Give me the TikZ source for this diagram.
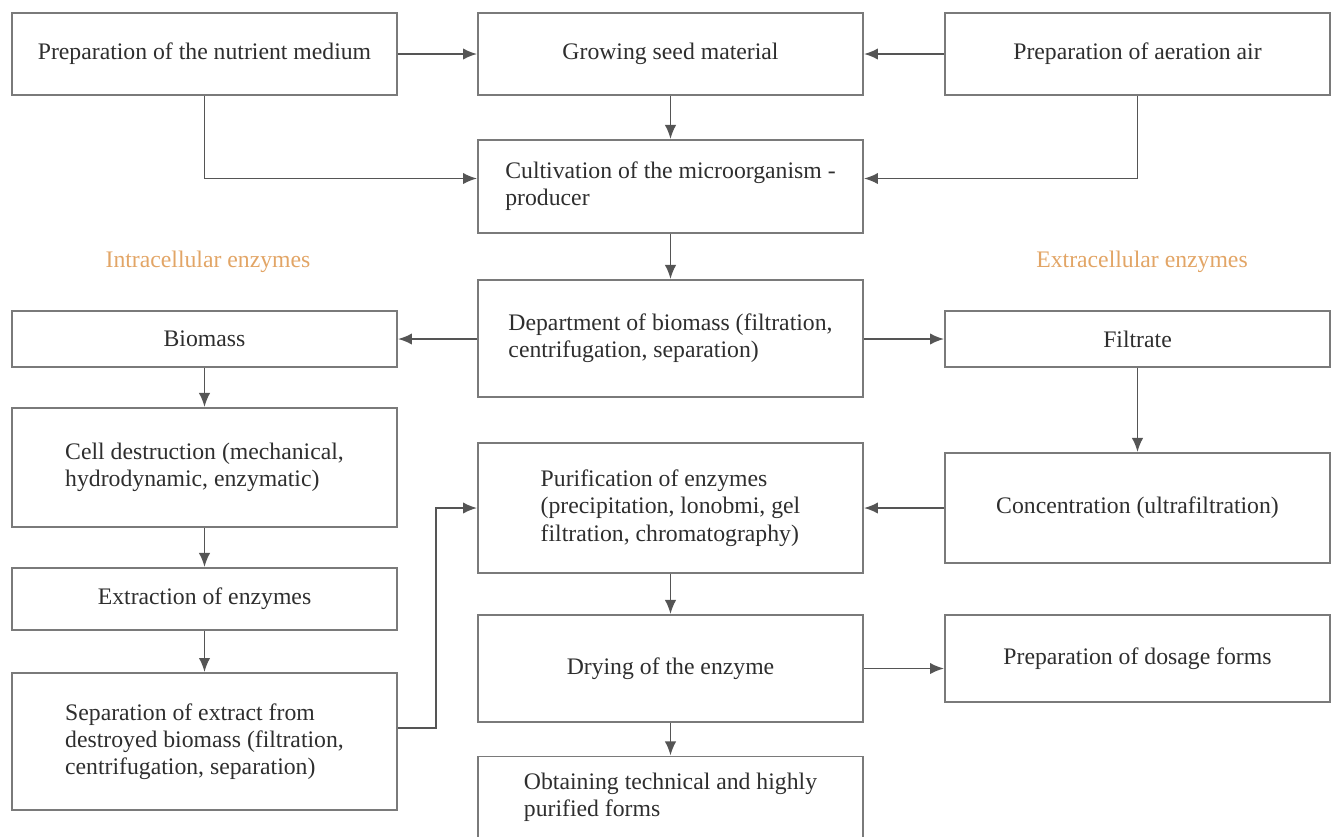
\documentclass[tikz,border=0pt]{standalone}
\usepackage{xcolor}
\usepackage{fontspec}
\setmainfont{Liberation Serif}
\usepackage{tikz}
\usetikzlibrary{arrows.meta}
\definecolor{ink}{HTML}{2E2E2E}
\definecolor{frame}{HTML}{7A7A7A}
\definecolor{tag}{HTML}{E2A566}

\begin{document}
\begin{tikzpicture}[x=0.02cm, y=-0.02cm,
  stage/.style={draw=frame, line width=1.1pt, text=ink, minimum width=7.7cm, inner sep=4pt,
    font=\fontsize{13.5}{15.5}\selectfont},
  flow/.style={draw=frame!70!black, line width=1.1pt, -{Latex[length=8pt,width=6.5pt]}},
  side/.style={text=tag, font=\fontsize{13.5}{15.5}\selectfont}]
  \useasboundingbox (0,0) rectangle (1336,836);
  % Top row
  \node[stage, minimum height=1.64cm] (medium) at (204.5,54) {Preparation of the nutrient medium};
  \node[stage, minimum height=1.64cm] (seed) at (670.5,54) {Growing seed material};
  \node[stage, minimum height=1.64cm] (air) at (1137.5,54) {Preparation of aeration air};
  \node[stage, minimum height=1.86cm, align=left] (cultiv) at (670.5,186.5)
    {Cultivation of the microorganism -\\producer};
  % Branch labels
  \node[side] (intra) at (208,262) {Intracellular enzymes};
  \node[side] (extra) at (1142,262) {Extracellular enzymes};
  % Middle column
  \node[stage, minimum height=2.34cm, align=left] (dept) at (670.5,338.5)
    {Department of biomass (filtration,\\centrifugation, separation)};
  \node[stage, minimum height=2.6cm, align=left] (purif) at (670.5,508)
    {Purification of enzymes\\(precipitation, lonobmi, gel\\filtration, chromatography)};
  \node[stage, minimum height=2.14cm] (drying) at (670.5,668.5) {Drying of the enzyme};
  \node[stage, minimum height=1.62cm, align=left] (obtain) at (670.5,797)
    {Obtaining technical and highly\\purified forms};
  % Left column
  \node[stage, minimum height=1.12cm] (biomass) at (204.5,339) {Biomass};
  \node[stage, minimum height=2.38cm, align=left] (cell) at (204.5,467.5)
    {Cell destruction (mechanical,\\hydrodynamic, enzymatic)};
  \node[stage, minimum height=1.24cm] (extract) at (204.5,599) {Extraction of enzymes};
  \node[stage, minimum height=2.74cm, align=left] (sep) at (204.5,741.5)
    {Separation of extract from\\destroyed biomass (filtration,\\centrifugation, separation)};
  % Right column
  \node[stage, minimum height=1.12cm] (filtrate) at (1137.5,339) {Filtrate};
  \node[stage, minimum height=2.2cm] (concen) at (1137.5,508) {Concentration (ultrafiltration)};
  \node[stage, minimum height=1.74cm] (dosage) at (1137.5,658.5) {Preparation of dosage forms};
  % Connectors
  \draw[flow] (medium.east) -- (seed.west);
  \draw[flow] (air.west) -- (seed.east);
  \draw[flow] (seed) -- (cultiv);
  \draw[flow] (medium.south) |- ([yshift=0.16cm]cultiv.west);
  \draw[flow] (air.south) |- ([yshift=0.16cm]cultiv.east);
  \draw[flow] (cultiv) -- (dept);
  \draw[flow] (dept.west |- biomass.east) -- (biomass.east);
  \draw[flow] (dept.east |- filtrate.west) -- (filtrate.west);
  \draw[flow] (biomass) -- (cell);
  \draw[flow] (cell) -- (extract);
  \draw[flow] (extract) -- (sep);
  \draw[flow] ([yshift=0.27cm]sep.east) -- ++(38,0) |- (purif.west);
  \draw[flow] (filtrate) -- (concen);
  \draw[flow] (concen) -- (purif);
  \draw[flow] (purif) -- (drying);
  \draw[flow] (drying) -- (obtain);
  \draw[flow] (drying.east) -- (drying.east -| dosage.west);
\end{tikzpicture}
\end{document}
